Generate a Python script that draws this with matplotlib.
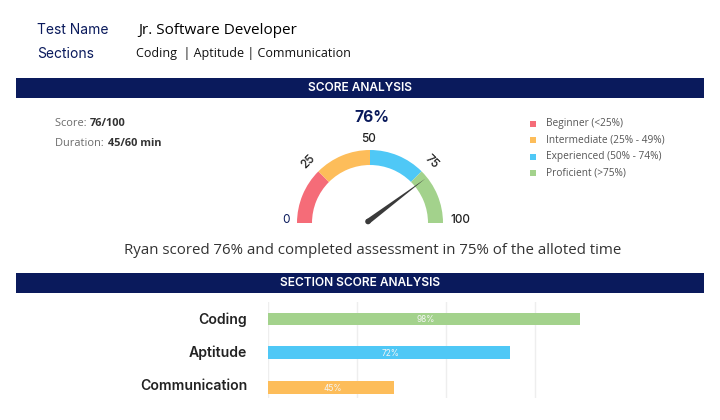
import matplotlib
matplotlib.use('Agg')
import matplotlib.pyplot as plt
import numpy as np
from matplotlib.patches import Rectangle, Wedge, Polygon, Circle

NAVY = '#0a1a5c'
DARK = '#222222'
GREY = '#6b6b6b'

band_edges = [0, 25, 50, 75, 100]
band_colors = ['#f56c78', '#fdbd5a', '#4fc8f6', '#a3d28c']
needle_value = 78.5

legend_labels = ['Beginner (<25%)', 'Intermediate (25% - 49%)',
                 'Experienced (50% - 74%)', 'Proficient (>75%)']

sections = ['Coding', 'Aptitude', 'Communication']
section_lengths = [87.6, 68, 35.4]
section_labels = ['98%', '72%', '45%']
section_colors = ['#a3d28c', '#4fc8f6', '#fdbd5a']
grid_values = [0, 25, 50, 75]


def value_to_angle(v):
    return 180 - v * 1.8


def main():
    fig = plt.figure(figsize=(7.2, 4.2), dpi=100)

    # page axes in pixels, y going down
    page = fig.add_axes([0, 0, 1, 1])
    page.set_xlim(0, 720)
    page.set_ylim(420, 0)
    page.axis('off')

    page.text(37, 29.5, 'Test Name', color=NAVY, fontsize=10, family='Inter', va='center')
    page.text(37, 53.5, 'Sections', color=NAVY, fontsize=10, family='Inter', va='center')
    page.text(138, 30, 'Jr. Software Developer', color='black', fontsize=10.95, family='Open Sans', va='center')
    page.text(136, 53.5, 'Coding  | Aptitude | Communication', color='#111111', fontsize=9,
              family='Open Sans', va='center')

    for y, title in [(78, 'SCORE ANALYSIS'), (273, 'SECTION SCORE ANALYSIS')]:
        page.add_patch(Rectangle((16, y), 688, 20, color=NAVY, lw=0))
        page.text(360, y + 10, title, color='white', fontsize=8.6, family='Inter',
                  weight='semibold', ha='center', va='center')

    page.text(55, 123, 'Score: ', color=GREY, fontsize=7.9, family='Open Sans', va='center')
    page.text(90, 123, '76/100', color='#333333', fontsize=7.9, family='Open Sans', weight='bold', va='center')
    page.text(55, 144, 'Duration: ', color=GREY, fontsize=7.9, family='Open Sans', va='center')
    page.text(108, 144, '45/60 min', color='#333333', fontsize=7.9, family='Open Sans', weight='bold', va='center')

    page.text(372, 117.5, '76%', color=NAVY, fontsize=11.2, family='Inter', weight='bold', ha='center', va='center')

    # gauge
    cx, cy = 370, 223
    r_out, r_in = 73, 58
    gauge = fig.add_axes([(cx - 100) / 720, (420 - cy) / 420, 200 / 720, 100 / 420])
    gauge.set_xlim(-100, 100)
    gauge.set_ylim(0, 100)
    gauge.axis('off')
    for i, color in enumerate(band_colors):
        gauge.add_patch(Wedge((0, 0), r_out, value_to_angle(band_edges[i + 1]),
                              value_to_angle(band_edges[i]), width=r_out - r_in,
                              color=color, lw=0))

    # needle
    a = np.radians(value_to_angle(needle_value))
    ux, uy = np.cos(a), np.sin(a)
    px, py = -2, 1.5
    gauge.add_patch(Polygon([(px - uy * 2.6, py + ux * 2.6), (ux * 71, uy * 71), (px + uy * 2.6, py - ux * 2.6)],
                            color='#3a3a3a', lw=0, clip_on=False))
    gauge.add_patch(Circle((px, py), 2.8, color='#3a3a3a', lw=0, clip_on=False))

    page.text(286, 220, '0', color=NAVY, fontsize=8.5, family='Inter', ha='center', va='center')
    page.text(460, 220, '100', color='#222222', fontsize=8.5, family='Inter', weight='medium', ha='center', va='center')
    page.text(369, 138.5, '50', color='#222222', fontsize=8.5, family='Inter', weight='medium', ha='center', va='center')
    page.text(308, 162, '25', color='#222222', fontsize=8.5, family='Inter', weight='medium', ha='center', va='center', rotation=45)
    page.text(432, 162, '75', color='#222222', fontsize=8.5, family='Inter', weight='medium', ha='center', va='center', rotation=-45)

    # legend
    for i, (label, color) in enumerate(zip(legend_labels, band_colors)):
        y = 123.5 + i * 16.6
        page.add_patch(Rectangle((530, y - 3), 6, 6, color=color, lw=0))
        page.text(545.5, y, label, color='#555555', fontsize=7.3, family='Open Sans', va='center')

    page.text(373, 250.5, 'Ryan scored 76% and completed assessment in 75% of the alloted time',
              color='#333333', fontsize=10.8, family='Open Sans', ha='center', va='center')

    # section bars, x in units with 25 = 89 px
    ax = fig.add_axes([268 / 720, (420 - 398) / 420, 356 / 720, 96 / 420])
    ax.set_xlim(0, 100)
    ax.set_ylim(398, 302)
    ypos = [319, 352.5, 387.5]
    ax.barh(ypos, section_lengths, height=12.7, color=section_colors, zorder=2)
    for v in grid_values:
        ax.axvline(v, color='#eeeeee', lw=1, zorder=1)
    for y, length, label in zip(ypos, section_lengths, section_labels):
        ax.text(length / 2 + 0.4, y + 1, label, color='#f5f5f5', fontsize=6, family='Inter',
                ha='center', va='center', zorder=3)
    ax.set_yticks([318, 351.5, 384.5])
    ax.set_yticklabels(sections, family='Inter', weight='semibold', fontsize=10.1, color=DARK)
    ax.tick_params(axis='y', length=0, pad=15)
    ax.set_xticks([])
    ax.patch.set_alpha(0)
    for s in ax.spines.values():
        s.set_visible(False)

    fig.savefig('out.png', dpi=100)


if __name__ == '__main__':
    main()
